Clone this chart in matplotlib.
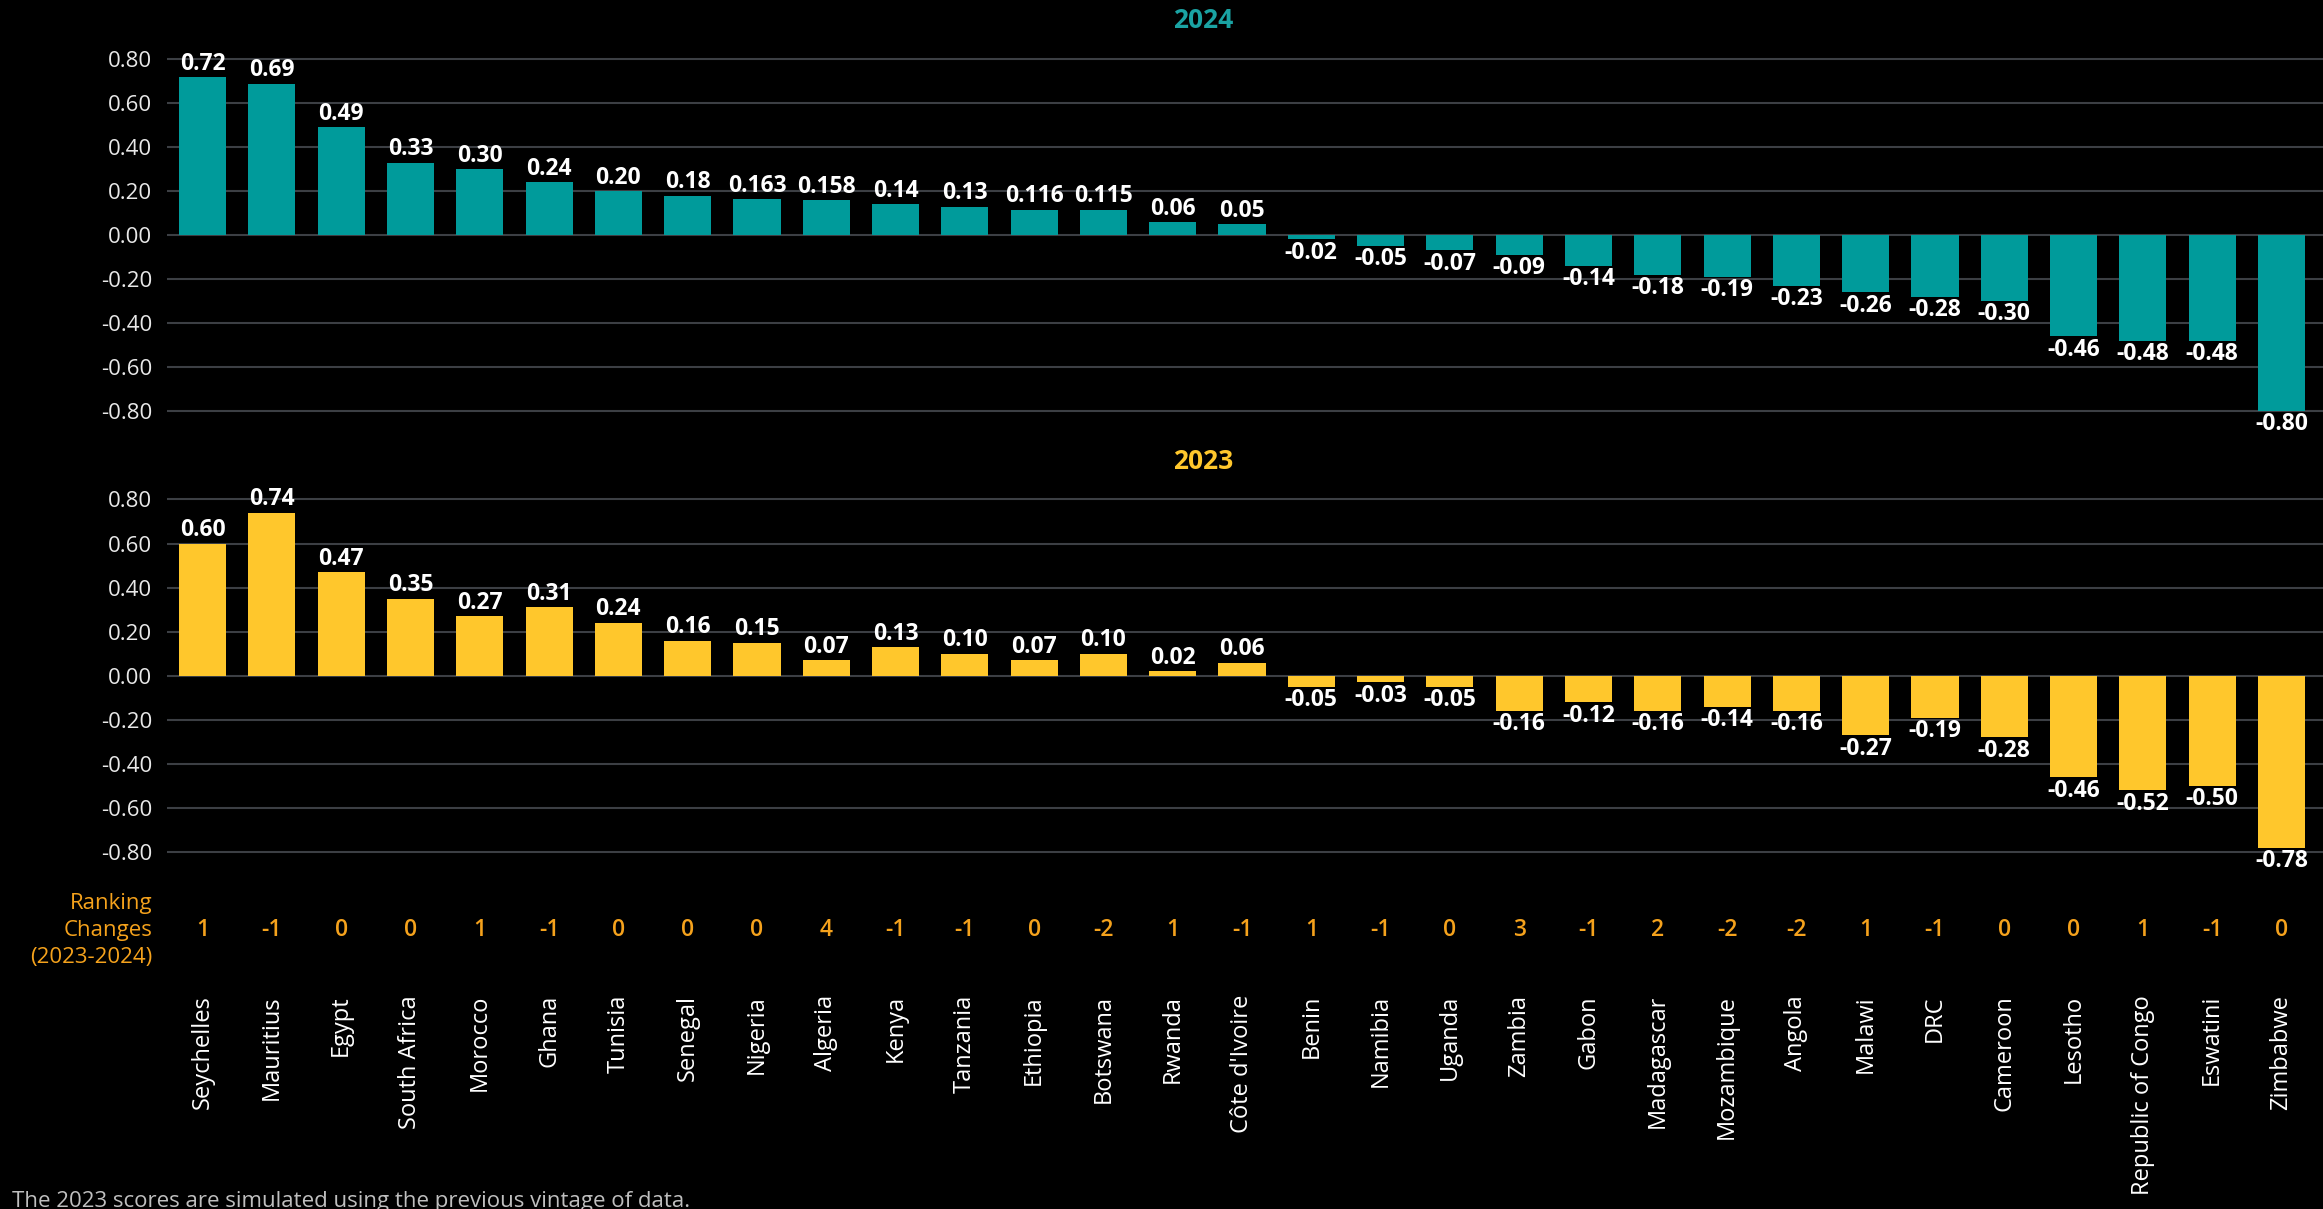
import matplotlib.pyplot as plt
import matplotlib.transforms as mtransforms
import numpy as np

plt.rcParams['font.family'] = ['Open Sans', 'DejaVu Sans']

countries = ["Seychelles", "Mauritius", "Egypt", "South Africa", "Morocco", "Ghana",
             "Tunisia", "Senegal", "Nigeria", "Algeria", "Kenya", "Tanzania", "Ethiopia",
             "Botswana", "Rwanda", "Côte d'Ivoire", "Benin", "Namibia", "Uganda", "Zambia",
             "Gabon", "Madagascar", "Mozambique", "Angola", "Malawi", "DRC", "Cameroon",
             "Lesotho", "Republic of Congo", "Eswatini", "Zimbabwe"]

scores_2024 = [0.72, 0.69, 0.49, 0.33, 0.30, 0.24, 0.20, 0.18, 0.163, 0.158, 0.14, 0.13,
               0.116, 0.115, 0.06, 0.05, -0.02, -0.05, -0.07, -0.09, -0.14, -0.18, -0.19,
               -0.23, -0.26, -0.28, -0.30, -0.46, -0.48, -0.48, -0.80]
labels_2024 = ["0.72", "0.69", "0.49", "0.33", "0.30", "0.24", "0.20", "0.18", "0.163",
               "0.158", "0.14", "0.13", "0.116", "0.115", "0.06", "0.05", "-0.02", "-0.05",
               "-0.07", "-0.09", "-0.14", "-0.18", "-0.19", "-0.23", "-0.26", "-0.28",
               "-0.30", "-0.46", "-0.48", "-0.48", "-0.80"]

scores_2023 = [0.60, 0.74, 0.47, 0.35, 0.27, 0.31, 0.24, 0.16, 0.15, 0.07, 0.13, 0.10,
               0.07, 0.10, 0.02, 0.06, -0.05, -0.03, -0.05, -0.16, -0.12, -0.16, -0.14,
               -0.16, -0.27, -0.19, -0.28, -0.46, -0.52, -0.50, -0.78]

rank_change = [1, -1, 0, 0, 1, -1, 0, 0, 0, 4, -1, -1, 0, -2, 1, -1, 1, -1, 0, 3, -1, 2,
               -2, -2, 1, -1, 0, 0, 1, -1, 0]

yticks = [-0.8, -0.6, -0.4, -0.2, 0.0, 0.2, 0.4, 0.6, 0.8]

teal = "#009b9b"
yellow = "#ffc72c"
orange = "#f5a21c"
grid_c = "#3c3f44"

fig = plt.figure(figsize=(23.23, 12.09), dpi=100, facecolor="black")
ax1 = fig.add_axes([0.072, 0.642, 0.928, 0.318])
ax2 = fig.add_axes([0.072, 0.277, 0.928, 0.319])

x = np.arange(len(countries))


def draw_panel(ax, vals, labels, color):
    ax.set_facecolor("black")
    ax.bar(x, vals, width=0.68, color=color, zorder=3)
    ax.set_xlim(-0.51, 30.6)
    ax.set_ylim(-0.9, 0.85)
    ax.set_yticks(yticks)
    ax.set_yticklabels([f"{t:.2f}" for t in yticks])
    ax.tick_params(axis="y", length=0, pad=11, labelsize=16, labelcolor="#e8e8e8")
    ax.set_xticks([])
    for y in yticks:
        ax.axhline(y, color=grid_c, lw=1.5, zorder=1)
    for s in ax.spines.values():
        s.set_visible(False)
    for xi, v, lab in zip(x, vals, labels):
        if v >= 0:
            ax.annotate(lab, (xi, v), xytext=(0, 1), textcoords="offset points",
                        ha="center", va="bottom", color="white", fontsize=16.5,
                        fontweight="bold")
        else:
            ax.annotate(lab, (xi, v), xytext=(0, -1), textcoords="offset points",
                        ha="center", va="top", color="white", fontsize=16.5,
                        fontweight="bold")


draw_panel(ax1, scores_2024, labels_2024, teal)
draw_panel(ax2, scores_2023, [f"{v:.2f}" for v in scores_2023], yellow)

fig.text(0.518, 0.983, "2024", color="#1aa3a3", fontsize=19, fontweight="bold",
         ha="center", va="center")
fig.text(0.518, 0.618, "2023", color=yellow, fontsize=19, fontweight="bold",
         ha="center", va="center")

trans = mtransforms.blended_transform_factory(ax2.transData, fig.transFigure)
for xi, r in zip(x, rank_change):
    ax2.text(xi, 0.2304, str(r), transform=trans, ha="center", va="center",
             color=orange, fontsize=16.5, fontweight="semibold")
for xi, c in zip(x, countries):
    ax2.text(xi, 0.177, c, transform=trans, ha="center", va="top", rotation=90,
             color="white", fontsize=17)

fig.text(0.0657, 0.2304, "Ranking\nChanges\n(2023-2024)", ha="right", va="center",
         color=orange, fontsize=16, linespacing=1.4)

fig.text(0.005, 0.006, "The 2023 scores are simulated using the previous vintage of data.",
         ha="left", va="center", color="#bfbfbf", fontsize=16)

fig.savefig("out.png", dpi=100, facecolor="black")
